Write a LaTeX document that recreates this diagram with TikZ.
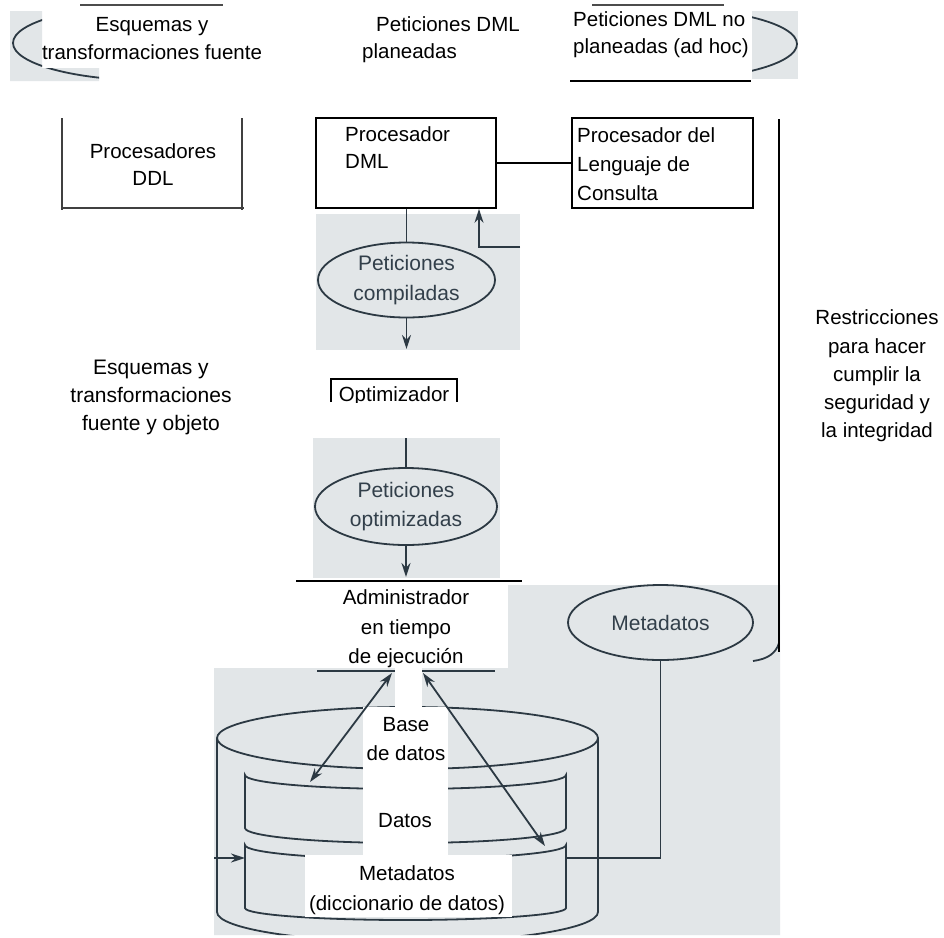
\documentclass[tikz,border=0pt]{standalone}
\usepackage{fontspec}
\setmainfont{Liberation Sans}
\usetikzlibrary{shapes.geometric,arrows.meta}
\definecolor{patch}{RGB}{226,230,232}
\definecolor{scan}{RGB}{44,57,67}
\definecolor{scantext}{RGB}{50,63,74}
\begin{document}
\begin{tikzpicture}[x=1pt,y=-1pt,
  txt/.style={font=\fontsize{20.5}{28}\selectfont, inner sep=0pt, text=black},
  stxt/.style={font=\fontsize{21}{30}\selectfont, inner sep=0pt, text=scantext, align=center},
  procbox/.style={draw=black, line width=1.8pt, inner sep=0pt},
  scanline/.style={draw=scan, line width=1.8pt},
  scanell/.style={ellipse, draw=scan, line width=1.8pt, inner sep=0pt},
  sarrow/.style={scanline, -{Stealth[length=14pt,width=9pt]}},
  darrow/.style={scanline, {Stealth[length=14pt,width=9pt]}-{Stealth[length=14pt,width=9pt]}},
  thinline/.style={draw=black!75, line width=1.1pt},
  topline/.style={draw=black!70, line width=1.4pt},
]
\useasboundingbox (0,0) rectangle (944,937);
\fill[white] (0,0) rectangle (944,937);

% ---------- scanned patches ----------
\fill[patch] (10,11) -- (42,11) -- (42,68) -- (99,68) -- (99,81) -- (10,81) -- cycle;
\fill[patch] (752,11) rectangle (798,79);
\fill[patch] (316,214) rectangle (520,350);
\fill[patch] (313,438) rectangle (500,578);
\fill[patch] (214,668) -- (508,668) -- (508,585) -- (780,585) -- (780,935) -- (214,935) -- cycle;

\begin{scope}
  \clip (10,11) -- (42,11) -- (42,68) -- (99,68) -- (99,81) -- (10,81) -- cycle;
  \draw[scanline] (152,43) ellipse [x radius=139pt, y radius=37.5pt];
\end{scope}
\begin{scope}
  \clip (752,11) rectangle (800,79);
  \draw[scanline] (661,44) ellipse [x radius=136pt, y radius=36pt];
\end{scope}

% ---------- cylinder (base de datos) ----------
\begin{scope}
  \clip (214,668) -- (508,668) -- (508,585) -- (780,585) -- (780,935) -- (214,935) -- cycle;
  \draw[scanline] (407.5,738) ellipse [x radius=190.5pt, y radius=31pt];
  \draw[scanline] (217,738) -- (217,912) .. controls (217,928.6) and (302.3,942) .. (407.5,942)
        .. controls (512.7,942) and (598,928.6) .. (598,912) -- (598,738);
  \draw[scanline] (245,775) .. controls (245,782.7) and (316.9,789) .. (405.5,789)
        .. controls (494.1,789) and (566,782.7) .. (566,775) -- (566,828)
        .. controls (566,836.3) and (494.1,843) .. (405.5,843)
        .. controls (316.9,843) and (245,836.3) .. (245,828) -- cycle;
  \draw[scanline] (245,845) .. controls (245,852.7) and (316.9,859) .. (405.5,859)
        .. controls (494.1,859) and (566,852.7) .. (566,845) -- (566,908)
        .. controls (566,914.6) and (494.1,920) .. (405.5,920)
        .. controls (316.9,920) and (245,914.6) .. (245,908) -- cycle;
  \draw[scanline] (317,671) -- (395,671);
  \draw[scanline] (422,671) -- (495,671);
\end{scope}

% white cut-outs over the scan
\fill[white] (395,668) rectangle (422,707);
\fill[white] (363,707) rectangle (448,855);
\fill[white] (305,855) rectangle (512,917);

% ---------- boxes ----------
\node[procbox, minimum width=180pt, minimum height=90pt] (dml) at (406,163) {};
\node[procbox, minimum width=181pt, minimum height=90pt] (lq) at (662.5,163) {};
\draw[black, line width=1.8pt] (dml.east) -- (lq.west);

\draw[thinline] (62,118) -- (62,210);
\draw[thinline] (242,118) -- (242,210);
\draw[thinline] (62,208) -- (244,208);

\draw[topline] (80,5) -- (223,5);
\draw[topline] (592,5) -- (724,5);
\draw[black, line width=2.5pt] (570,81) -- (751,81);

% ---------- compiled requests ----------
\node[scanell, minimum width=177pt, minimum height=75pt] (comp) at (406.5,280) {};
\node[stxt] (compt) at (comp.center) {Peticiones\\compiladas};
\draw[scanline] (comp.north |- dml.south) -- (comp.north);
\coordinate (compout) at (406.5,349);
\draw[sarrow] (comp.south) -- (compout);
\coordinate (qin) at (479,247);
\coordinate (qedge) at (520,247);
\draw[sarrow] (qedge) -- (qin) -- (qin |- dml.south);

% ---------- optimizer ----------
\begin{scope}
  \clip (320,370) rectangle (470,402);
  \node[txt] (optim) at (394,396) {Optimizador};
\end{scope}
\draw[black, line width=2pt] (331,402) -- (331,379) -- (457,379) -- (457,402);

\node[scanell, minimum width=182pt, minimum height=77pt] (optr) at (406,506.5) {};
\node[stxt, font=\fontsize{21}{29}\selectfont] (optrt) at (optr.center) {Peticiones\\optimizadas};
\coordinate (optin) at (406,438);
\draw[scanline] (optin) -- (optr.north);
\coordinate (optout) at (406,577);
\draw[sarrow] (optr.south) -- (optout);

\draw[black, line width=1.1pt] (296,581) -- (522,581);

% ---------- metadata ----------
\node[scanell, minimum width=185pt, minimum height=75pt] (meta) at (660.5,622.5) {};
\node[stxt] (metat) at (meta.center) {Metadatos};
\coordinate (mjoin) at (566,858);
\draw[scanline] (meta.south) -- (meta.south |- mjoin) -- (mjoin);
\draw[scanline] (753,661) .. controls (768,659) and (776,653) .. (779,643);
\draw[black, line width=2.8pt] (779,119) -- (779,652);

\coordinate (inL) at (214,858);
\coordinate (inR) at (245,858);
\draw[sarrow] (inL) -- (inR);

\coordinate (admL) at (392,673);
\coordinate (datL) at (310,782);
\draw[darrow] (admL) -- (datL);
\coordinate (admR) at (423,673);
\coordinate (metR) at (545,846);
\draw[darrow] (admR) -- (metR);

% ---------- texts ----------
\node[txt, align=center] (tlt) at (152,39) {Esquemas y\\transformaciones fuente};
\node[txt, anchor=west] (pdml1) at (376,24) {Peticiones DML};
\node[txt, anchor=west] (pdml2) at (362,53) {planeadas};
\node[txt, align=left, anchor=west, font=\fontsize{20.5}{27}\selectfont] (trt) at (573,35) {Peticiones DML no\\planeadas (ad hoc)};
\node[txt, align=center, font=\fontsize{20.5}{27}\selectfont] (ddl) at (153,165) {Procesadores\\DDL};
\node[txt, align=left, anchor=west, font=\fontsize{20.5}{27}\selectfont] (dmlt) at (345,148) {Procesador\\DML};
\node[txt, align=left, anchor=west, font=\fontsize{20.5}{29}\selectfont] (lqt) at (577,164) {Procesador del\\Lenguaje de\\Consulta};
\node[txt, align=center, font=\fontsize{21}{28}\selectfont] (esq) at (151,397) {Esquemas y\\transformaciones\\fuente y objeto};
\node[txt, align=center, font=\fontsize{20.5}{28.3}\selectfont] (restr) at (877,376) {Restricciones\\para hacer\\cumplir la\\seguridad y\\la integridad};
\node[txt, align=center, font=\fontsize{20.5}{29.5}\selectfont] (adm) at (406,629) {Administrador\\en tiempo\\de ejecución};
\node[txt, align=center, font=\fontsize{20.5}{29}\selectfont] (bd) at (406,739) {Base\\de datos};
\node[txt] (datos) at (405,821) {Datos};
\node[txt, align=center, font=\fontsize{20.5}{30}\selectfont] (metad) at (407,890) {Metadatos\\(diccionario de datos)};
\end{tikzpicture}
\end{document}
